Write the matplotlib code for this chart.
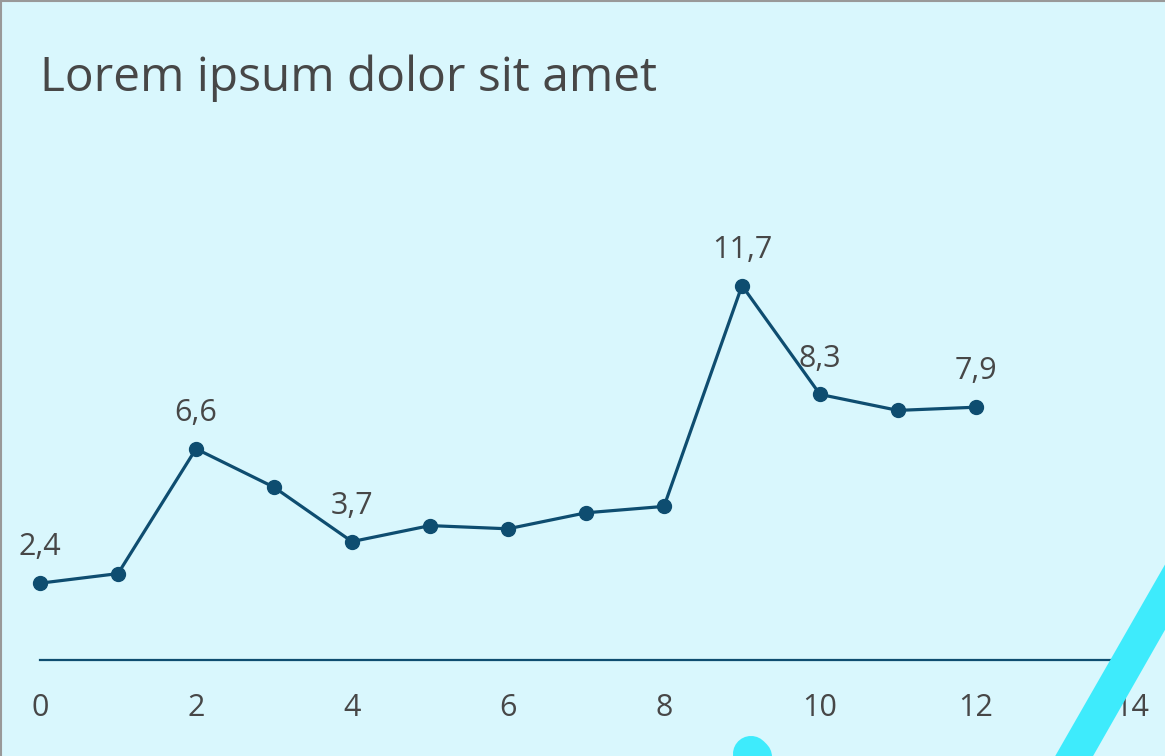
import matplotlib
matplotlib.use('Agg')
import matplotlib.pyplot as plt
from matplotlib.lines import Line2D
from matplotlib.patches import Polygon

plt.rcParams['font.family'] = ['Open Sans', 'DejaVu Sans']

x_vals = [0, 1, 2, 3, 4, 5, 6, 7, 8, 9, 10, 11, 12]
y_vals = [2.4, 2.7, 6.6, 5.4, 3.7, 4.2, 4.1, 4.6, 4.8, 11.7, 8.3, 7.8, 7.9]
labelled = [0, 2, 4, 9, 10, 12]
x_ticks = [0, 2, 4, 6, 8, 10, 12, 14]

title = "Lorem ipsum dolor sit amet"
bg = "#d9f7fd"
line_col = "#0e4d70"
text_col = "#474747"
cyan = "#3eebfc"

W, H = 1165, 756
fig = plt.figure(figsize=(W / 100, H / 100), dpi=100, facecolor=bg)
ax = fig.add_axes([40 / W, (H - 660) / H, (1132 - 40) / W, 14 * 32 / H])
ax.set_facecolor(bg)

ax.plot(x_vals, y_vals, color=line_col, lw=2.3, marker='o', ms=10,
        solid_capstyle='round', clip_on=False, zorder=3)

for i in labelled:
    ax.annotate(f"{y_vals[i]:.1f}".replace('.', ','), (x_vals[i], y_vals[i]),
                xytext=(0, 20), textcoords='offset points', ha='center',
                va='baseline', fontsize=22, color=text_col)

ax.set_xlim(0, 14)
ax.set_ylim(0, 14)
ax.set_xticks(x_ticks)
ax.set_yticks([])
ax.tick_params(axis='x', length=0, pad=24, labelsize=22, labelcolor=text_col)
for s in ['top', 'right', 'left']:
    ax.spines[s].set_visible(False)
ax.spines['bottom'].set_color(line_col)
ax.spines['bottom'].set_linewidth(1.6)

fig.text(40 / W, 1 - 91 / H, title, fontsize=34.5, color=text_col,
         ha='left', va='baseline')

# decorative shapes, given in pixels from the top-left corner
def fpt(x, y):
    return (x / W, 1 - y / H)

stripe = [fpt(1030, 800), fpt(1202, 500), fpt(1239, 500), fpt(1068, 800)]
fig.add_artist(Polygon(stripe, closed=True, facecolor=cyan, edgecolor='none',
                       transform=fig.transFigure, zorder=10))
bx, by = zip(fpt(751, 754), fpt(800, 803))
fig.add_artist(Line2D(bx, by, color=cyan, lw=26, solid_capstyle='round', zorder=10))

# border on top and left
fig.add_artist(Line2D([0, 1], [1 - 1 / H, 1 - 1 / H], color="#999999", lw=1.5))
fig.add_artist(Line2D([1 / W, 1 / W], [0, 1], color="#999999", lw=1.5))

plt.savefig("out.png", dpi=100, facecolor=bg)
plt.close()
